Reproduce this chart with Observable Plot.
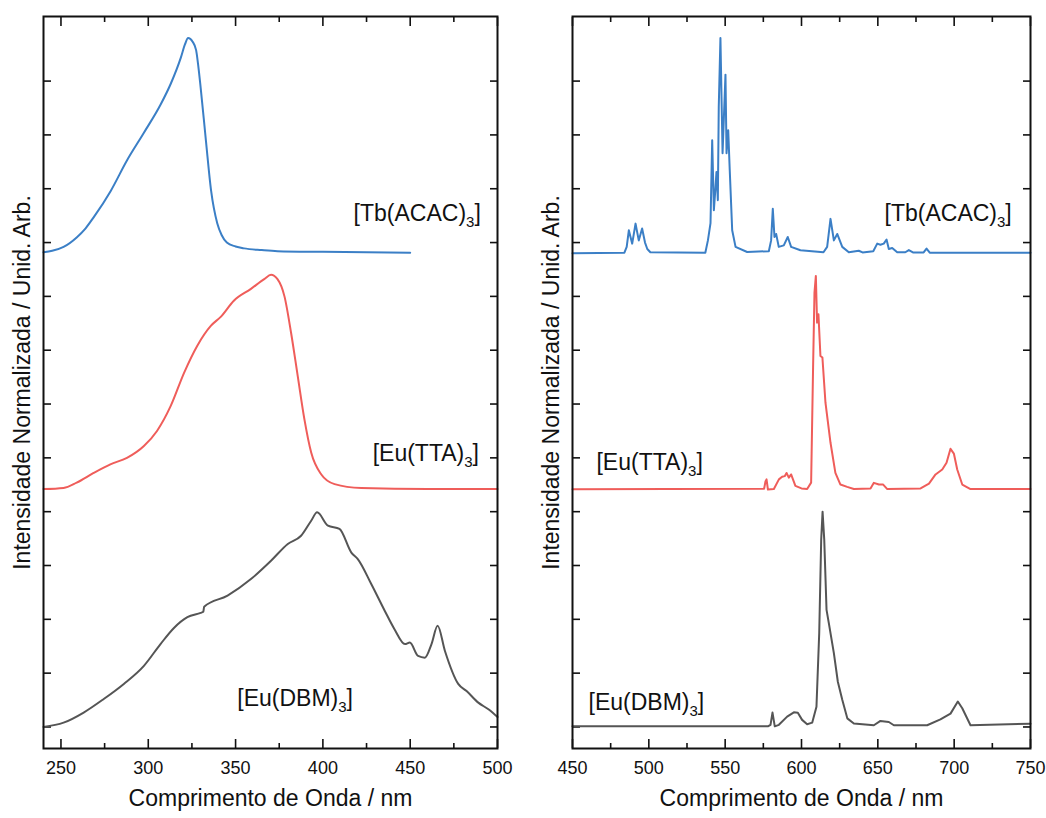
<!DOCTYPE html>
<html><head><meta charset="utf-8">
<script src="https://cdn.jsdelivr.net/npm/d3@7"></script>
<script src="https://cdn.jsdelivr.net/npm/@observablehq/plot@0.6"></script>
<style>
body{margin:0;background:#fff;}
#wrap{position:relative;width:1046px;height:818px;background:#fff;}
#left{position:absolute;left:0;top:0;}
#right{position:absolute;left:530px;top:0;}
</style></head><body><div id="wrap"><div id="left"></div><div id="right"></div></div>
<script>
// ---------- labels & ticks ----------
const compounds = ["Tb(ACAC)", "Eu(TTA)", "Eu(DBM)"];
const seriesColors = ["#3b7fc6", "#ef5d5a", "#555555"];
const xTitle = "Comprimento de Onda / nm";
const yTitle = "Intensidade Normalizada / Unid. Arb.";
const excMajor = [250, 300, 350, 400, 450, 500];
const excMinor = [275, 325, 375, 425, 475];
const emMajor = [450, 500, 550, 600, 650, 700, 750];
const emMinor = [475, 525, 575, 625, 675, 725];
const yTicks = [0, 0.25, 0.5, 0.75, 1, 1.25, 1.5, 1.75, 2, 2.25, 2.5, 2.75, 3];

// ---------- excitation spectra (left) ----------
const tbExcNm = [240,245,251.5,259,264,268.7,278.5,287.7,297.5,307,313,318.7,321,322.8,325.4,327.4,328.5,330,333,336,339.5,342,345,350,355,365,374,400,450];
const tbExcI  = [0.005,0.012,0.03,0.074,0.115,0.167,0.29,0.43,0.56,0.69,0.79,0.91,0.97,1.0,0.983,0.944,0.88,0.77,0.525,0.29,0.14,0.085,0.05,0.032,0.023,0.015,0.01,0.007,0.003];

const ttaExcNm = [240,251.5,259,268.7,278.3,287.8,297.5,305,312.8,320.5,328,335.8,341.5,349,358.8,366.4,370.3,374,378,381.8,385.6,389.4,393.3,399,406.7,422,460,500];
const ttaExcI  = [0.005,0.01,0.035,0.08,0.12,0.15,0.205,0.275,0.39,0.545,0.67,0.763,0.805,0.88,0.935,0.98,1.0,0.98,0.90,0.73,0.53,0.33,0.175,0.074,0.028,0.01,0.005,0.005];

const dbmExcNm = [240,251.5,263,274.5,286,297.5,307,314.7,322.4,330,331.5,332,345.4,358.8,370.3,379.9,387.5,393.3,396.7,402.9,409.5,416.3,420,427.7,435.4,441,447,449.8,454.5,458.4,462.2,465.7,469.9,477.5,482.3,489,494.8,500];
const dbmExcI  = [0,0.02,0.067,0.13,0.2,0.284,0.385,0.46,0.51,0.53,0.535,0.558,0.61,0.687,0.772,0.85,0.888,0.958,0.997,0.935,0.92,0.81,0.78,0.664,0.54,0.454,0.385,0.392,0.33,0.322,0.385,0.47,0.353,0.2,0.167,0.113,0.082,0.046];

// ---------- emission spectra (right) ----------
const tbEmNm = [450,484,485.5,486.9,489.1,491.3,493.4,495.6,497.5,499,501,537,538.7,540.4,541.5,542.6,543.7,544.3,545.2,545.8,546.9,548.3,550.2,550.9,552,553,554.6,556.8,564.4,578.6,580.1,581.2,582.3,583.4,585.1,588.4,591,593.2,599.3,614.4,616.8,619,621.2,623.4,626.7,631,637.5,640,647,649.6,651.7,653.9,655.7,657.2,659.4,662.7,668,670.3,673,680,681.9,684,750];
const tbEmI  = [0,0.003,0.03,0.107,0.045,0.138,0.06,0.115,0.05,0.02,0.005,0.003,0.06,0.14,0.525,0.2,0.31,0.378,0.247,0.68,1.0,0.465,0.83,0.465,0.572,0.386,0.107,0.03,0.006,0.01,0.06,0.207,0.076,0.09,0.03,0.037,0.076,0.03,0.014,0.005,0.03,0.16,0.06,0.09,0.03,0.005,0.012,0.004,0.01,0.045,0.04,0.045,0.064,0.02,0.025,0.005,0.005,0.015,0.004,0.004,0.022,0.003,0.003];

const ttaEmNm = [450,575.5,576.4,577.1,578,581.9,585.2,587.3,589,590.2,591.7,593.2,596,600,603.7,606.3,607.6,608.5,609.4,610.2,611.1,612.4,613.7,615.7,619,622.2,625.5,629.9,634.3,645.2,647.4,650.7,653.5,656.2,678,683.5,687.8,692.2,695,697.6,699.8,702,705.3,710.7,750];
const ttaEmI  = [0.004,0.006,0.04,0.05,0.003,0.005,0.05,0.062,0.065,0.08,0.058,0.073,0.02,0.008,0.005,0.035,0.577,0.918,0.995,0.778,0.817,0.623,0.616,0.406,0.22,0.08,0.026,0.015,0.005,0.008,0.034,0.026,0.026,0.005,0.008,0.03,0.073,0.096,0.127,0.192,0.17,0.096,0.026,0.005,0.005];

const dbmEmNm = [450,578,579.7,581,582.5,585.2,590.6,595,597.6,600.4,603.7,607,609.8,611.6,612.9,613.8,614.9,616.4,617.9,621.2,623.8,626.7,630,634.3,647.4,651.7,657.2,660.5,682.3,691,697.6,702.4,705.3,710.7,750];
const dbmEmI  = [0.003,0.003,0.01,0.067,0.003,0.01,0.048,0.068,0.066,0.033,0.013,0.02,0.094,0.435,0.87,1.0,0.87,0.544,0.482,0.343,0.21,0.126,0.04,0.016,0.008,0.028,0.023,0.008,0.008,0.035,0.062,0.118,0.087,0.008,0.015];

// vertical stacking offsets of the three normalized spectra
const offsets = [2.2, 1.1, 0];

const FONT = "'Liberation Sans', Arial, Helvetica, sans-serif";
const rows = (nm, I, off) => nm.map((x, i) => ({nm: x, v: I[i] + off}));

function panel({domain, major, minor, spectra, curve, labels, width, marginLeft, marginRight}) {
  const tickStyle = {stroke: "#111", strokeWidth: 1.6, tickFormat: () => "", label: null};
  const marks = [
    Plot.axisX({...tickStyle, anchor: "bottom", ticks: major, tickSize: -9}),
    Plot.axisX({...tickStyle, anchor: "bottom", ticks: minor, tickSize: -5}),
    Plot.axisX({...tickStyle, anchor: "top", ticks: major, tickSize: -9}),
    Plot.axisX({...tickStyle, anchor: "top", ticks: minor, tickSize: -5}),
    Plot.axisY({...tickStyle, anchor: "left", ticks: yTicks, tickSize: -8}),
    Plot.axisY({...tickStyle, anchor: "right", ticks: yTicks, tickSize: -8}),
    Plot.axisX({anchor: "bottom", ticks: major, tickSize: 0, tickPadding: 13, fontSize: 18, label: null, fill: "#111"}),
    ...spectra.map(([nm, I], k) => Plot.line(rows(nm, I, offsets[k]), {x: "nm", y: "v", stroke: seriesColors[k], strokeWidth: 2, curve})),
    Plot.text(labels, {x: "x", y: "y", text: "t", textAnchor: "start", fontSize: 23, fill: "#111"}),
    Plot.text([xTitle], {frameAnchor: "bottom", dy: 57, fontSize: 23, fill: "#111"}),
    Plot.text([yTitle], {frameAnchor: "left", dx: -21, rotate: -90, textAnchor: "middle", fontSize: 23, fill: "#111"}),
    Plot.frame({stroke: "#111", strokeWidth: 2})
  ];
  const svg = Plot.plot({
    width, height: 818, marginTop: 16, marginBottom: 70, marginLeft, marginRight,
    style: {fontFamily: FONT, background: "transparent", color: "#111", overflow: "visible"},
    x: {domain}, y: {domain: [-0.1, 3.3]},
    marks
  });
  // render the "3" of each compound label as a subscript
  svg.querySelectorAll("text").forEach(t => {
    const s = t.textContent;
    const m = s.match(/^\[(.*)3\]$/);
    if (!m) return;
    t.textContent = "";
    const ns = "http://www.w3.org/2000/svg";
    const a = document.createElementNS(ns, "tspan"); a.textContent = "[" + m[1];
    const b = document.createElementNS(ns, "tspan"); b.textContent = "3";
    b.setAttribute("font-size", "15"); b.setAttribute("dy", "6");
    const c = document.createElementNS(ns, "tspan"); c.textContent = "]"; c.setAttribute("dy", "-6");
    t.append(a, b, c);
  });
  return svg;
}

const lab = (k, x, y) => ({t: "[" + compounds[k] + "3]", x, y});

document.getElementById("left").append(panel({
  domain: [240, 500], major: excMajor, minor: excMinor,
  spectra: [[tbExcNm, tbExcI], [ttaExcNm, ttaExcI], [dbmExcNm, dbmExcI]],
  curve: "monotone-x",
  labels: [lab(0, 417.6, 2.386), lab(1, 428.5, 1.27), lab(2, 351, 0.13)],
  width: 530, marginLeft: 43, marginRight: 33
}));
document.getElementById("right").append(panel({
  domain: [450, 750], major: emMajor, minor: emMinor,
  spectra: [[tbEmNm, tbEmI], [ttaEmNm, ttaEmI], [dbmEmNm, dbmEmI]],
  curve: "linear",
  labels: [lab(0, 654.4, 2.386), lab(1, 465.7, 1.228), lab(2, 460.5, 0.112)],
  width: 516, marginLeft: 42, marginRight: 16
}));
</script></body></html>
